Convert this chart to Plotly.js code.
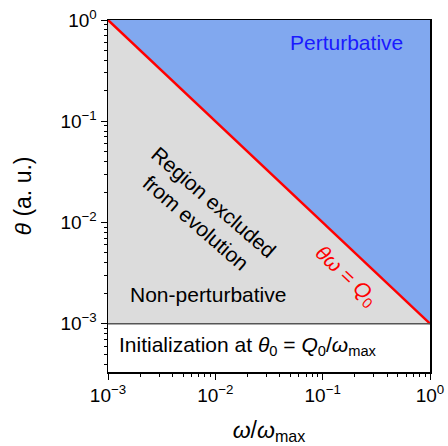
<!DOCTYPE html>
<html><head><meta charset="utf-8">
<script src="https://cdn.plot.ly/plotly-3.0.1.min.js"></script>
<style>body{margin:0;background:#fff}#plot{width:448px;height:446px}</style>
</head><body><div id="plot"></div>
<script>
// Region boundaries (omega/omega_max, theta)
const perturbX = [1e-3, 1, 1, 1e-3];
const perturbY = [1, 1, 1e-3, 1];
const nonPertX = [1e-3, 1e-3, 1, 1e-3];
const nonPertY = [1, 1e-3, 1e-3, 1];
const lineX = [1e-3, 1];
const lineY = [1, 1e-3];
const initX = [1e-3, 1];
const initY = [1e-3, 1e-3];
const tickVals = [1e-3, 1e-2, 1e-1, 1];
const tickText = ['10<sup>−3</sup>', '10<sup>−2</sup>', '10<sup>−1</sup>', '10<sup>0</sup>'];

const font = 'Liberation Sans, Arial, sans-serif';
const traces = [
  {x: perturbX, y: perturbY, type: 'scatter', mode: 'lines', fill: 'toself', fillcolor: '#81a8ef', line: {width: 0}, hoverinfo: 'skip'},
  {x: nonPertX, y: nonPertY, type: 'scatter', mode: 'lines', fill: 'toself', fillcolor: '#dcdcdc', line: {width: 0}, hoverinfo: 'skip'},
  {x: lineX, y: lineY, type: 'scatter', mode: 'lines', line: {color: '#ff0000', width: 2.5}, hoverinfo: 'skip'},
  {x: initX, y: initY, type: 'scatter', mode: 'lines', line: {color: '#555555', width: 1.5}, hoverinfo: 'skip'}
];
const axisCommon = {
  type: 'log', showgrid: false, zeroline: false, showline: true, linecolor: '#000', linewidth: 1.5,
  mirror: true, ticks: 'outside', ticklen: 6, tickwidth: 1, tickcolor: '#000',
  tickvals: tickVals, ticktext: tickText, tickfont: {family: font, size: 19, color: '#000'},
  minor: {ticks: 'outside', ticklen: 3, tickwidth: 1, tickcolor: '#000', dtick: 'D1', showgrid: false}
};
const ann = (x, y, text, size, color, angle) => ({
  xref: 'paper', yref: 'paper', x: x, y: y, text: text, showarrow: false,
  xanchor: 'center', yanchor: 'middle', textangle: angle || 0,
  font: {family: font, size: size, color: color}
});
const layout = {
  width: 448, height: 446,
  margin: {l: 108, r: 18, t: 20, b: 74},
  paper_bgcolor: '#fff', plot_bgcolor: '#fff',
  showlegend: false,
  font: {family: font, color: '#000'},
  xaxis: Object.assign({}, axisCommon, {range: [-3, 0], title: {text: '<i>ω</i>/<i>ω</i><sub>max</sub>', font: {family: font, size: 23}, standoff: 16}}),
  yaxis: Object.assign({}, axisCommon, {range: [-3.477, 0], title: {text: '<i>θ</i> (a. u.)', font: {family: font, size: 23}, standoff: 22}}),
  annotations: [
    ann(0.742, 0.935, 'Perturbative', 21, '#1a1aff'),
    ann(0.30, 0.455, 'Region excluded<br>from evolution', 21, '#000', 41),
    ann(0.739, 0.273, '<i>θω</i> = <i>Q</i><sub>0</sub>', 21, '#ff0000', 43),
    ann(0.311, 0.219, 'Non-perturbative', 21, '#000'),
    ann(0.435, 0.074, 'Initialization at <i>θ</i><sub>0</sub> = <i>Q</i><sub>0</sub>/<i>ω</i><sub>max</sub>', 21, '#000')
  ]
};
Plotly.newPlot('plot', traces, layout, {staticPlot: true});
</script></body></html>
